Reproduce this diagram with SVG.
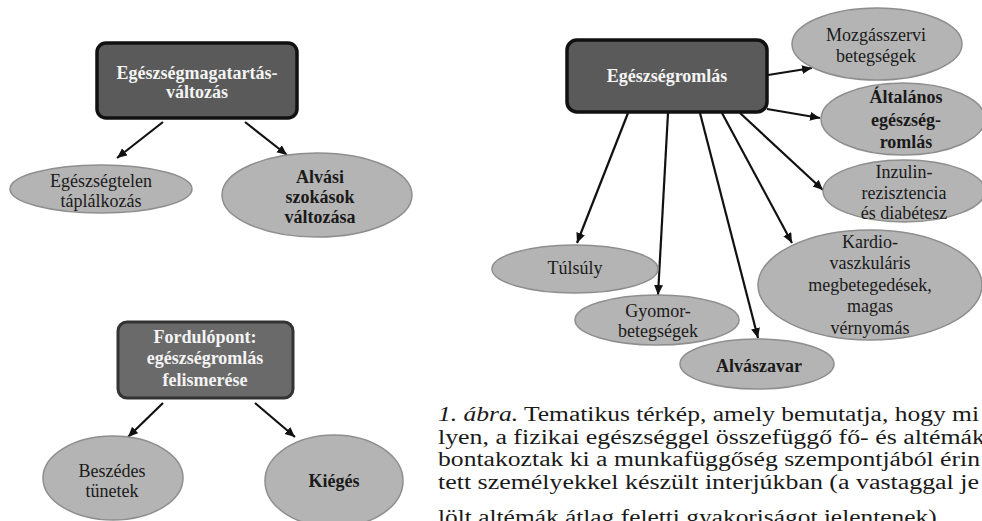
<svg xmlns="http://www.w3.org/2000/svg" width="982" height="521" viewBox="0 0 982 521">
<defs>
<marker id="ah" markerUnits="userSpaceOnUse" markerWidth="12" markerHeight="10" refX="10" refY="4.5" orient="auto">
<path d="M0,0 L10,4.5 L0,9 z" fill="#111"/>
</marker>
<style>
.box{fill:#5a5a5a;stroke:#111;stroke-width:3.5}
.box2{fill:#6a6a6a;stroke:#333;stroke-width:3}
.ell{fill:#b4b4b4;stroke:#8e8e8e;stroke-width:1.5}
.bt{font-size:18px;font-weight:bold;fill:#f4f4f4;text-anchor:middle}
.t{font-size:18px;fill:#1a1a1a;text-anchor:middle}
.tb{font-size:18px;font-weight:bold;fill:#1a1a1a;text-anchor:middle}
.conn line{stroke:#111;stroke-width:2.2;marker-end:url(#ah)}
.cap{font-size:20px;fill:#1a1a1a}
</style>
</defs>
<rect width="982" height="521" fill="#ffffff"/>

<g id="connectors" class="conn">
<line x1="163" y1="122" x2="117" y2="158"/>
<line x1="245" y1="122" x2="287" y2="155"/>
<line x1="163" y1="403" x2="128" y2="437"/>
<line x1="255" y1="403" x2="295" y2="437"/>
<line x1="768" y1="75" x2="812" y2="68"/>
<line x1="767" y1="109" x2="820" y2="118"/>
<line x1="740" y1="113" x2="823" y2="190"/>
<line x1="722" y1="113" x2="792" y2="243"/>
<line x1="700" y1="113" x2="758" y2="338"/>
<line x1="668" y1="113" x2="658" y2="295"/>
<line x1="628" y1="113" x2="577" y2="243"/>
</g>

<g id="n-egeszsegmagatartas">
<rect class="box" x="97" y="43" width="200" height="75" rx="9"/>
<text class="bt" style="font-family:'Liberation Serif',serif" x="197" y="79">Egészségmagatartás-</text>
<text class="bt" style="font-family:'Liberation Serif',serif" x="197" y="98">változás</text>
</g>
<g id="n-egeszsegtelen">
<ellipse class="ell" cx="101" cy="189" rx="91" ry="24"/>
<text class="t" style="font-family:'Liberation Serif',serif" x="101" y="187">Egészségtelen</text>
<text class="t" style="font-family:'Liberation Serif',serif" x="101" y="207">táplálkozás</text>
</g>
<g id="n-alvasi">
<ellipse class="ell" cx="317" cy="195" rx="95" ry="42"/>
<text class="tb" style="font-family:'Liberation Serif',serif" x="320" y="183">Alvási</text>
<text class="tb" style="font-family:'Liberation Serif',serif" x="320" y="203">szokások</text>
<text class="tb" style="font-family:'Liberation Serif',serif" x="320" y="223">változása</text>
</g>

<g id="n-fordulopont">
<rect class="box2" x="118" y="322" width="175" height="76" rx="9"/>
<text class="bt" style="font-family:'Liberation Serif',serif" x="205" y="343">Fordulópont:</text>
<text class="bt" style="font-family:'Liberation Serif',serif" x="205" y="364">egészségromlás</text>
<text class="bt" style="font-family:'Liberation Serif',serif" x="205" y="386">felismerése</text>
</g>
<g id="n-beszedes">
<ellipse class="ell" cx="113" cy="478" rx="70" ry="42"/>
<text class="t" style="font-family:'Liberation Serif',serif" x="112" y="477">Beszédes</text>
<text class="t" style="font-family:'Liberation Serif',serif" x="112" y="497">tünetek</text>
</g>
<g id="n-kieges">
<ellipse class="ell" cx="334" cy="481" rx="69" ry="46"/>
<text class="tb" style="font-family:'Liberation Serif',serif" x="334" y="487">Kiégés</text>
</g>

<g id="n-egeszsegromlas">
<rect class="box" x="567" y="40" width="200" height="72" rx="10"/>
<text class="bt" style="font-family:'Liberation Serif',serif" x="667" y="82">Egészségromlás</text>
</g>
<g id="n-mozgasszervi">
<ellipse class="ell" cx="877" cy="44" rx="85" ry="36"/>
<text class="t" style="font-family:'Liberation Serif',serif" x="876" y="41">Mozgásszervi</text>
<text class="t" style="font-family:'Liberation Serif',serif" x="876" y="62">betegségek</text>
</g>
<g id="n-altalanos">
<ellipse class="ell" cx="903" cy="119" rx="82" ry="36"/>
<text class="tb" style="font-family:'Liberation Serif',serif" x="906" y="103">Általános</text>
<text class="tb" style="font-family:'Liberation Serif',serif" x="906" y="126">egészség-</text>
<text class="tb" style="font-family:'Liberation Serif',serif" x="906" y="148">romlás</text>
</g>
<g id="n-inzulin">
<ellipse class="ell" cx="904" cy="191" rx="81" ry="31"/>
<text class="t" style="font-family:'Liberation Serif',serif" x="904" y="178">Inzulin-</text>
<text class="t" style="font-family:'Liberation Serif',serif" x="904" y="199">rezisztencia</text>
<text class="t" style="font-family:'Liberation Serif',serif" x="904" y="219">és diabétesz</text>
</g>
<g id="n-kardio">
<ellipse class="ell" cx="870" cy="285" rx="112" ry="55"/>
<text class="t" style="font-family:'Liberation Serif',serif" x="870" y="248">Kardio-</text>
<text class="t" style="font-family:'Liberation Serif',serif" x="870" y="269">vaszkuláris</text>
<text class="t" style="font-family:'Liberation Serif',serif" x="870" y="291">megbetegedések,</text>
<text class="t" style="font-family:'Liberation Serif',serif" x="870" y="312">magas</text>
<text class="t" style="font-family:'Liberation Serif',serif" x="870" y="334">vérnyomás</text>
</g>
<g id="n-tulsuly">
<ellipse class="ell" cx="575" cy="269" rx="83" ry="24"/>
<text class="t" style="font-family:'Liberation Serif',serif" x="575" y="274">Túlsúly</text>
</g>
<g id="n-gyomor">
<ellipse class="ell" cx="657" cy="320" rx="82" ry="25"/>
<text class="t" style="font-family:'Liberation Serif',serif" x="658" y="317">Gyomor-</text>
<text class="t" style="font-family:'Liberation Serif',serif" x="658" y="337">betegségek</text>
</g>
<g id="n-alvaszavar">
<ellipse class="ell" cx="757" cy="364" rx="77" ry="25"/>
<text class="tb" style="font-family:'Liberation Serif',serif" x="759" y="372">Alvászavar</text>
</g>

<g id="caption">
<text class="cap" style="font-family:'Liberation Serif',serif" x="438" y="421" textLength="541" lengthAdjust="spacingAndGlyphs"><tspan font-style="italic">1. ábra.</tspan> Tematikus térkép, amely bemutatja, hogy mi</text>
<text class="cap" style="font-family:'Liberation Serif',serif" x="438" y="443.5" textLength="547" lengthAdjust="spacingAndGlyphs">lyen, a fizikai egészséggel összefüggő fő- és altémák</text>
<text class="cap" style="font-family:'Liberation Serif',serif" x="438" y="466" textLength="542" lengthAdjust="spacingAndGlyphs">bontakoztak ki a munkafüggőség szempontjából érin</text>
<text class="cap" style="font-family:'Liberation Serif',serif" x="438" y="488.5" textLength="541" lengthAdjust="spacingAndGlyphs">tett személyekkel készült interjúkban (a vastaggal je</text>
<text class="cap" style="font-family:'Liberation Serif',serif" x="438" y="524" textLength="505" lengthAdjust="spacingAndGlyphs">lölt altémák átlag feletti gyakoriságot jelentenek).</text>
</g>
</svg>
